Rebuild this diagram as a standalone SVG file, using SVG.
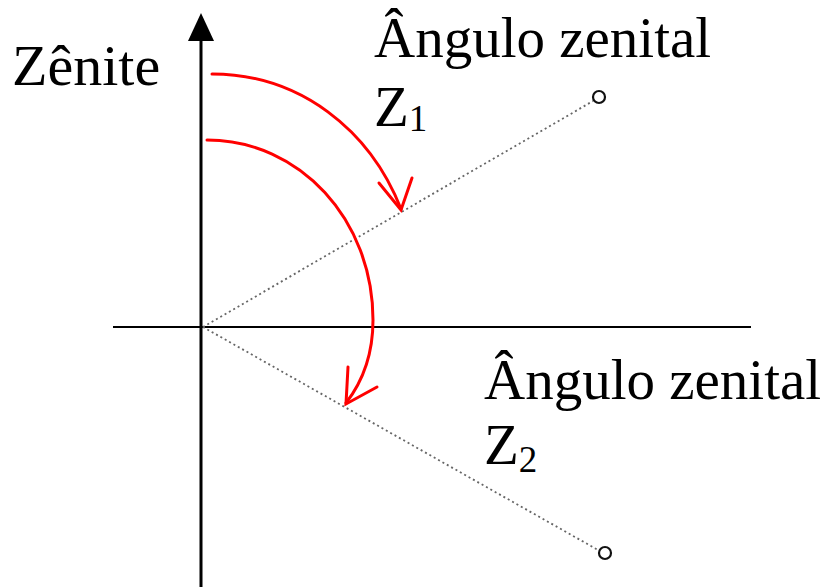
<svg xmlns="http://www.w3.org/2000/svg" width="829" height="587" viewBox="0 0 829 587">
<style>
.lbl{font-family:"Liberation Serif","Times New Roman",serif;font-size:57px;fill:#000}
.sub{font-size:37px}
.red{fill:none;stroke:#ff0000;stroke-width:3;stroke-linecap:round}
.dot{stroke:#666;stroke-width:1.8;stroke-dasharray:2 3}
.pt{fill:#fff;stroke:#111;stroke-width:2.2}
</style>
<rect width="829" height="587" fill="#fff"/>
<g id="axes">
<line x1="201" y1="40" x2="201" y2="587" stroke="#000" stroke-width="3"/>
<polygon points="201,13 188,41 214,41" fill="#000"/>
<line x1="113" y1="327" x2="751" y2="327" stroke="#000" stroke-width="2"/>
</g>
<g id="connectors">
<line class="dot" x1="203" y1="327" x2="593" y2="101"/>
<line class="dot" x1="203" y1="327" x2="598" y2="550"/>
<path class="red" d="M212,74 C300,74 370,130 401,209"/>
<path class="red" d="M379,183 L401,210 L412,178"/>
<path class="red" d="M207,140 C300,140 373,220 373,320 C373,360 360,385 346,403"/>
<path class="red" d="M348,367 L346,404 L377,387"/>
</g>
<g id="point1"><circle class="pt" cx="599" cy="97" r="6"/></g>
<g id="point2"><circle class="pt" cx="605" cy="553" r="6"/></g>
<g id="label-zenite"><text class="lbl" x="12" y="85" style="font-size:58px">Zênite</text></g>
<g id="label-z1">
<text class="lbl" x="374" y="57">Ângulo zenital</text>
<text class="lbl" x="374" y="126">Z<tspan class="sub" dy="5">1</tspan></text>
</g>
<g id="label-z2">
<text class="lbl" x="484" y="399">Ângulo zenital</text>
<text class="lbl" x="484" y="464">Z<tspan class="sub" dy="8">2</tspan></text>
</g>
</svg>
